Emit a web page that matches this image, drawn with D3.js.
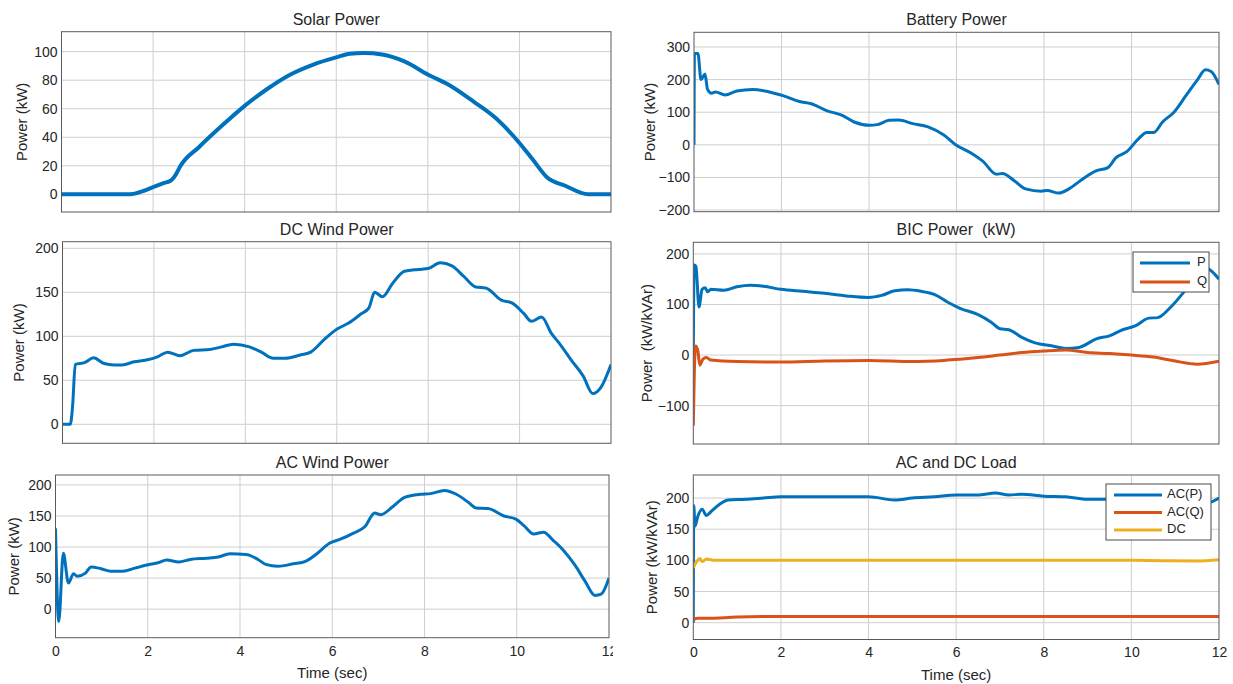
<!DOCTYPE html>
<html>
<head>
<meta charset="utf-8">
<script src="https://cdn.jsdelivr.net/npm/d3@7"></script>
<style>
  html, body { margin: 0; padding: 0; background: #ffffff; }
  svg { display: block; }
  text { font-family: "Liberation Sans Narrow", "Liberation Sans", Arial, sans-serif; fill: #262626; white-space: pre; }
</style>
</head>
<body>
<svg id="chart" width="1233" height="684"></svg>
<script>
// ---------------- DATA ----------------
const xTicks = [0, 2, 4, 6, 8, 10, 12];

const solarTime  = [0, 1.5, 1.8, 2.0, 2.2, 2.4, 2.5, 2.6, 3.0, 3.5, 4.0, 4.5, 5.0, 5.5, 6.0, 6.3, 6.6, 7.0, 7.5, 8.0, 8.5, 9.0, 9.5, 10.0, 10.3, 10.6, 11.0, 11.5, 12];
const solarPower = [0, 0, 2.5, 5, 7.5, 10, 14, 20, 33, 48, 62, 74, 84, 91, 96, 98.5, 99, 98, 93, 84, 76, 65, 53, 36, 24, 12, 6, 0, 0];

const dcWindTime  = [0, 0.17, 0.22, 0.28, 0.48, 0.68, 0.91, 1.13, 1.3, 1.57, 1.83, 2.09, 2.3, 2.57, 2.87, 3.22, 3.48, 3.74, 4.09, 4.35, 4.61, 4.87, 5.22, 5.43, 5.74, 6.0, 6.26, 6.52, 6.7, 6.83, 7.0, 7.22, 7.48, 7.78, 8.0, 8.26, 8.52, 8.78, 9.04, 9.26, 9.6, 9.83, 10.09, 10.26, 10.48, 10.7, 10.87, 11.13, 11.39, 11.6, 11.78, 12];
const dcWindPower = [0, 0, 20, 68, 70, 75.5, 69, 67.5, 67.5, 71, 73, 77, 82, 78, 84, 85, 88, 91, 88, 82, 75, 75, 79, 82, 97, 108, 115, 125, 132, 150, 145, 160, 174, 176, 177, 183.5, 180, 168, 156, 155, 141, 138, 126, 117, 122, 103, 92, 73, 55, 35, 42, 68];

const acWindTime  = [0, 0.07, 0.17, 0.28, 0.39, 0.47, 0.65, 0.77, 0.99, 1.2, 1.46, 1.72, 1.98, 2.24, 2.41, 2.67, 2.92, 3.27, 3.53, 3.78, 4.13, 4.39, 4.56, 4.82, 5.16, 5.42, 5.68, 5.94, 6.19, 6.45, 6.71, 6.92, 7.05, 7.31, 7.57, 7.91, 8.13, 8.43, 8.69, 8.95, 9.12, 9.38, 9.72, 9.98, 10.15, 10.37, 10.58, 10.8, 11.01, 11.27, 11.48, 11.7, 11.83, 12];
const acWindPower = [130, -20, 90, 42, 57, 53, 58, 68, 65, 61, 61, 66, 71, 75, 79, 76, 80, 82, 84, 89, 88, 80, 72, 69, 73, 77, 90, 106, 113, 122, 133, 155, 152, 165, 180, 185, 186, 191, 185, 172, 163, 162, 150, 145, 135, 121, 124, 110, 95, 70, 45, 22, 24, 50];

const batteryTime  = [0, 0.01, 0.09, 0.16, 0.25, 0.31, 0.4, 0.49, 0.71, 0.98, 1.34, 1.7, 2.05, 2.41, 2.68, 3.03, 3.39, 3.66, 4.01, 4.19, 4.46, 4.68, 5.0, 5.35, 5.71, 5.98, 6.33, 6.6, 6.91, 7.05, 7.32, 7.58, 7.94, 8.07, 8.34, 8.57, 8.83, 9.19, 9.46, 9.64, 9.9, 10.17, 10.35, 10.51, 10.71, 10.97, 11.24, 11.51, 11.69, 11.82, 12];
const batteryPower = [0, 280, 280, 200, 217, 170, 158, 162, 153, 165, 170, 163, 150, 133, 126, 105, 90, 70, 60, 62, 75, 76, 65, 55, 30, 0, -25, -50, -90, -88, -110, -135, -142, -140, -148, -135, -110, -80, -70, -40, -20, 20, 38, 38, 70, 100, 150, 200, 230, 225, 185];

const bicTime = [0, 0.02, 0.06, 0.13, 0.2, 0.27, 0.33, 0.4, 0.7, 1.0, 1.3, 1.6, 2.0, 2.5, 3.0, 3.5, 4.0, 4.3, 4.6, 4.9, 5.2, 5.5, 5.8, 6.1, 6.5, 6.8, 7.0, 7.2, 7.5, 7.8, 8.2, 8.5, 8.8, 9.2, 9.5, 9.8, 10.1, 10.4, 10.6, 10.9, 11.2, 11.5, 11.7, 11.9, 12];
const bicP    = [0, 178, 175, 95, 130, 133, 125, 130, 128, 135, 138, 136, 130, 126, 122, 117, 114, 118, 127, 129, 126, 120, 105, 92, 80, 65, 52, 50, 35, 24, 18, 13, 15, 32, 38, 50, 58, 73, 74, 95, 125, 160, 172, 160, 150];
const bicQTime = [0, 0.05, 0.1, 0.15, 0.22, 0.3, 0.4, 1.0, 2.0, 3.0, 4.0, 5.0, 5.8, 6.5, 7.0, 7.5, 8.0, 8.5, 9.0, 9.5, 10.0, 10.5, 11.0, 11.5, 12];
const bicQ     = [-140, 18, 10, -20, -8, -5, -10, -13, -14, -12, -11, -13, -10, -5, 0, 5, 8, 10, 5, 3, 0, -4, -12, -18, -12];

const loadTime = [0, 0.01, 0.04, 0.1, 0.2, 0.3, 0.4, 0.6, 0.8, 1.2, 1.6, 2.0, 3.0, 4.0, 4.6, 5.0, 5.5, 6.0, 6.5, 6.9, 7.2, 7.5, 8.0, 8.5, 9.0, 9.5, 10.0, 10.5, 11.0, 11.5, 11.8, 12];
const loadACP  = [0, 188, 155, 170, 182, 172, 178, 190, 197, 198, 200, 202, 202, 202, 197, 200, 202, 205, 205, 208, 205, 206, 203, 202, 198, 198, 196, 195, 192, 190, 193, 200];
const loadQTime = [0, 0.1, 0.3, 1.0, 2.0, 6.0, 12];
const loadACQ   = [5, 7, 7, 9, 10, 10, 10];
const loadDCTime = [0, 0.05, 0.1, 0.15, 0.2, 0.3, 0.5, 2, 4, 6, 8, 10, 11.5, 12];
const loadDC     = [88, 95, 100, 103, 98, 102, 100, 100, 100, 100, 100, 100, 99, 101];

const BLUE = "#0072BD", ORANGE = "#D95319", YELLOW = "#EDB120";

// ---------------- LAYOUT ----------------
const panels = [
  { title: "Solar Power", ylabel: "Power (kW)", box: [61.5, 611, 31.7, 212], dom: [-12.4, 114], yt: [0,20,40,60,80,100], ylx: 23,
    series: [{t: solarTime, v: solarPower, c: BLUE, w: 4}], xlab: false },
  { title: "DC Wind Power", ylabel: "Power (kW)", box: [62.5, 611, 241.7, 443.3], dom: [-21.6, 207.5], yt: [0,50,100,150,200], ylx: 20,
    series: [{t: dcWindTime, v: dcWindPower, c: BLUE, w: 3}], xlab: false },
  { title: "AC Wind Power", ylabel: "Power (kW)", box: [55.5, 609, 475, 637.7], dom: [-46, 216], yt: [0,50,100,150,200], ylx: 15,
    series: [{t: acWindTime, v: acWindPower, c: BLUE, w: 3}], xlab: true },
  { title: "Battery Power", ylabel: "Power (kW)", box: [694, 1219, 32.3, 211.7], dom: [-205, 345], yt: [-200,-100,0,100,200,300], ylx: 651,
    series: [{t: batteryTime, v: batteryPower, c: BLUE, w: 3}], xlab: false },
  { title: "BIC Power  (kW)", ylabel: "Power  (kW/kVAr)", box: [693.3, 1219, 242.3, 444], dom: [-176, 223], yt: [-100,0,100,200], ylx: 648,
    series: [{t: bicTime, v: bicP, c: BLUE, w: 3, name: "P"}, {t: bicQTime, v: bicQ, c: ORANGE, w: 3, name: "Q"}], xlab: false,
    legend: {x: 1133, y: 252, w: 76, h: 40, l0: 1140, l1: 1190, tx: 1197, rows: [263, 282]} },
  { title: "AC and DC Load", ylabel: "Power (kW/kVAr)", box: [693.3, 1219, 475, 639.5], dom: [-27, 237], yt: [0,50,100,150,200], ylx: 653,
    series: [{t: loadTime, v: loadACP, c: BLUE, w: 3, name: "AC(P)"}, {t: loadQTime, v: loadACQ, c: ORANGE, w: 3, name: "AC(Q)"}, {t: loadDCTime, v: loadDC, c: YELLOW, w: 3, name: "DC"}], xlab: true,
    legend: {x: 1106, y: 484, w: 105, h: 56, l0: 1114, l1: 1162, tx: 1167, rows: [495, 512.5, 530]} }
];

const svg = d3.select("#chart");
const defs = svg.append("defs");
defs.append("clipPath").attr("id", "leftcol").append("rect").attr("x", 0).attr("y", 0).attr("width", 613).attr("height", 684);

panels.forEach((p, i) => {
  const [x0, x1, y0, y1] = p.box;
  const root = svg.append("g").attr("clip-path", x0 < 300 ? "url(#leftcol)" : null);
  const x = d3.scaleLinear().domain([0, 12]).range([x0, x1]);
  const y = d3.scaleLinear().domain(p.dom).range([y1, y0]);
  const cid = "clip" + i;
  defs.append("clipPath").attr("id", cid).append("rect")
    .attr("x", x0).attr("y", y0).attr("width", x1 - x0).attr("height", y1 - y0);

  // grid
  root.append("g").selectAll("line.vx").data(xTicks.slice(1, -1)).join("line")
    .attr("x1", d => x(d)).attr("x2", d => x(d)).attr("y1", y0).attr("y2", y1)
    .attr("stroke", "#cfcfcf").attr("stroke-width", 1);
  root.append("g").selectAll("line.hy").data(p.yt).join("line")
    .attr("x1", x0).attr("x2", x1).attr("y1", d => y(d)).attr("y2", d => y(d))
    .attr("stroke", "#cfcfcf").attr("stroke-width", 1);

  // y axis labels
  const ya = d3.axisLeft(y).tickValues(p.yt).tickSize(0).tickPadding(4).tickFormat(d3.format("d"));
  const yg = root.append("g").attr("transform", `translate(${x0},0)`).call(ya);
  yg.select(".domain").remove();
  yg.selectAll("text").style("font-size", "14px").attr("fill", "#262626");

  // x axis
  const xa = d3.axisBottom(x).tickValues(xTicks).tickSize(0).tickPadding(8);
  const xg = root.append("g").attr("transform", `translate(0,${y1})`).call(xa);
  xg.select(".domain").remove();
  if (!p.xlab) xg.selectAll("text").remove();
  else xg.selectAll("text").style("font-size", "14px").attr("fill", "#262626");

  // series
  const line = d3.line().x(d => x(d[0])).y(d => y(d[1])).curve(d3.curveMonotoneX);
  const sg = root.append("g").attr("clip-path", `url(#${cid})`);
  p.series.forEach(s => {
    const pts = s.t.map((t, k) => [t, s.v[k]]);
    sg.append("path").attr("d", line(pts)).attr("fill", "none")
      .attr("stroke", s.c).attr("stroke-width", s.w).attr("stroke-linejoin", "round");
  });

  // box
  root.append("rect").attr("x", x0).attr("y", y0).attr("width", x1 - x0).attr("height", y1 - y0)
    .attr("fill", "none").attr("stroke", "#5a5a5a").attr("stroke-width", 1);

  // title
  root.append("text").attr("x", (x0 + x1) / 2).attr("y", y0 - 7).attr("text-anchor", "middle")
    .attr("xml:space", "preserve").style("font-size", "16px").text(p.title);
  // y label
  root.append("text").attr("transform", `translate(${p.ylx},${(y0 + y1) / 2}) rotate(-90)`)
    .attr("text-anchor", "middle").attr("dominant-baseline", "middle")
    .attr("xml:space", "preserve").style("font-size", "15px").text(p.ylabel);
  if (p.xlab) {
    root.append("text").attr("x", (x0 + x1) / 2).attr("y", y1 + 40).attr("text-anchor", "middle")
      .style("font-size", "15px").text("Time (sec)");
  }

  // legend
  if (p.legend) {
    const L = p.legend;
    const lg = root.append("g");
    lg.append("rect").attr("x", L.x).attr("y", L.y).attr("width", L.w).attr("height", L.h)
      .attr("fill", "#ffffff").attr("stroke", "#4a4a4a").attr("stroke-width", 1);
    p.series.forEach((s, k) => {
      lg.append("line").attr("x1", L.l0).attr("x2", L.l1).attr("y1", L.rows[k]).attr("y2", L.rows[k])
        .attr("stroke", s.c).attr("stroke-width", 3);
      lg.append("text").attr("x", L.tx).attr("y", L.rows[k]).attr("dominant-baseline", "middle")
        .style("font-size", "13px").text(s.name);
    });
  }
});
</script>
</body>
</html>
